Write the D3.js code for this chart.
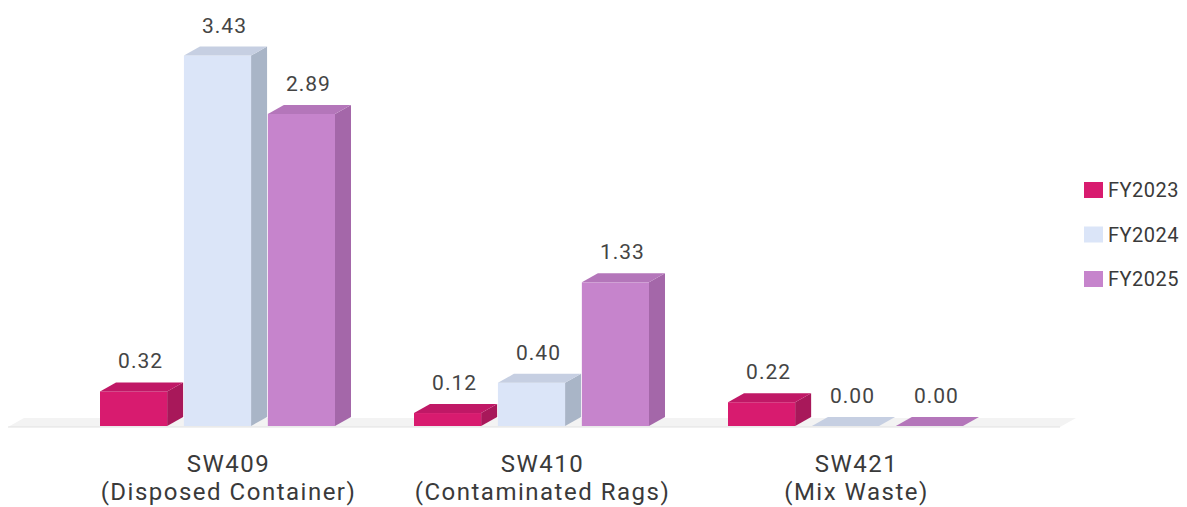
<!DOCTYPE html>
<html>
<head>
<meta charset="utf-8">
<script src="https://cdn.jsdelivr.net/npm/d3@7"></script>
<style>
  html, body { margin: 0; padding: 0; background: #ffffff; }
  svg { display: block; font-family: Roboto, "Liberation Sans", sans-serif; }
</style>
</head>
<body>
<svg id="chart" width="1187" height="507"></svg>
<script>
// Waste categories (two-line labels) and yearly quantities
const categories = ["SW409", "SW410", "SW421"];
const categoryNames = ["(Disposed Container)", "(Contaminated Rags)", "(Mix Waste)"];
const seriesNames = ["FY2023", "FY2024", "FY2025"];
const fy2023 = [0.32, 0.12, 0.22];
const fy2024 = [3.43, 0.40, 0.00];
const fy2025 = [2.89, 1.33, 0.00];
const seriesValues = [fy2023, fy2024, fy2025];

// front, side and top face colours of each series' 3D column
const palette = {
  FY2023: { front: "#d81b6f", side: "#a8185a", top: "#c01866" },
  FY2024: { front: "#dbe5f8", side: "#a9b5c7", top: "#c6cfe2" },
  FY2025: { front: "#c684cc", side: "#a467a9", top: "#b476ba" }
};

const svg = d3.select("#chart");
const baseY = 426;
const depthX = 16, depthY = 9;

const x0 = d3.scaleBand().domain(categories).range([100, 100 + 3 * 314]).padding(0);
const x1 = d3.scaleBand().domain(seriesNames).range([0, 235]).paddingInner(0.2).paddingOuter(0);
const y = d3.scaleLinear().domain([0, 3.5]).range([baseY, baseY - 3.5 * 108]);

// floor plane
const floorL = 8, floorR = 1060;
svg.append("path")
  .attr("d", `M${floorL},${baseY + 1} L${floorR},${baseY + 1} L${floorR + depthX},${baseY + 1 - depthY} L${floorL + depthX},${baseY + 1 - depthY} Z`)
  .attr("fill", "#f3f3f3");
svg.append("line")
  .attr("x1", floorL).attr("x2", floorR)
  .attr("y1", baseY + 1).attr("y2", baseY + 1)
  .attr("stroke", "#e2e2e2").attr("stroke-width", 1.2);

const rows = [];
categories.forEach((c, ci) => {
  seriesNames.forEach((s, si) => {
    rows.push({ cat: c, series: s, value: seriesValues[si][ci] });
  });
});

const bars = svg.append("g").selectAll("g").data(rows).join("g");

bars.each(function(d) {
  const g = d3.select(this);
  const xl = x0(d.cat) + x1(d.series);
  const w = x1.bandwidth();
  const yt = y(d.value);
  const col = palette[d.series];
  if (d.value > 0) {
    // side face
    g.append("path")
      .attr("d", `M${xl + w},${baseY} L${xl + w + depthX},${baseY - depthY} L${xl + w + depthX},${yt - depthY} L${xl + w},${yt} Z`)
      .attr("fill", col.side);
    // front face
    g.append("rect")
      .attr("x", xl).attr("y", yt)
      .attr("width", w).attr("height", baseY - yt)
      .attr("fill", col.front);
  }
  // top face
  g.append("path")
    .attr("d", `M${xl},${yt} L${xl + w},${yt} L${xl + w + depthX},${yt - depthY} L${xl + depthX},${yt - depthY} Z`)
    .attr("fill", col.top);
  // value label
  g.append("text")
    .attr("x", xl + w / 2 + depthX / 2 - 1)
    .attr("y", yt - depthY - 14)
    .attr("text-anchor", "middle")
    .attr("font-size", 21)
    .attr("letter-spacing", 1)
    .attr("fill", "#444")
    .text(d3.format(".2f")(d.value));
});

// category labels
const labels = svg.append("g");
categories.forEach((c, i) => {
  const cx = x0(c) + (235 + depthX) / 2 + 3;
  const t = labels.append("text")
    .attr("text-anchor", "middle")
    .attr("font-size", 24)
    .attr("letter-spacing", 1.5)
    .attr("fill", "#3a3a3a");
  t.append("tspan").attr("x", cx).attr("y", 472).text(c);
  t.append("tspan").attr("x", cx).attr("y", 500).text(categoryNames[i]);
});

// legend
const legend = svg.append("g");
seriesNames.forEach((s, i) => {
  const ly = 182 + i * 44.5;
  legend.append("rect")
    .attr("x", 1084).attr("y", ly)
    .attr("width", 19).attr("height", 16)
    .attr("fill", palette[s].front);
  legend.append("text")
    .attr("x", 1108).attr("y", ly + 15)
    .attr("font-size", 20)
    .attr("letter-spacing", 0.5)
    .attr("fill", "#3a3a3a")
    .text(s);
});
</script>
</body>
</html>
